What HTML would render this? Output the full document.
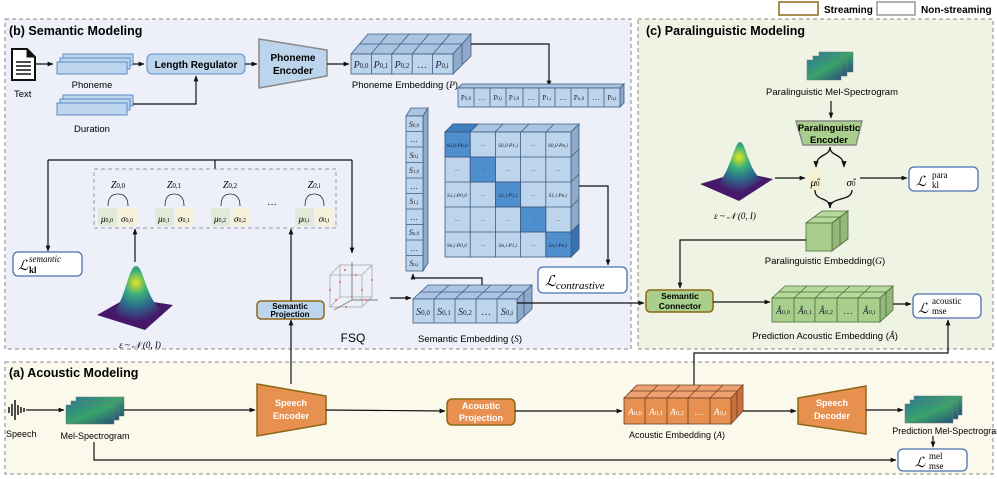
<!DOCTYPE html>
<html><head><meta charset="utf-8"><style>
body{margin:0;background:#fff}
svg{display:block}
.b{font-family:"Liberation Sans",sans-serif;font-weight:bold}
.s{font-family:"Liberation Sans",sans-serif}
.m{font-family:"Liberation Serif",serif;font-style:italic}
</style></head><body>
<svg width="997" height="479" viewBox="0 0 997 479" xmlns="http://www.w3.org/2000/svg">
<defs>
<marker id="a" viewBox="0 0 10 10" refX="9" refY="5" markerWidth="5" markerHeight="5" orient="auto"><path d="M0,1 L10,5 L0,9z" fill="#111"/></marker>
<linearGradient id="sp" x1="0" y1="0" x2="1" y2="1"><stop offset="0" stop-color="#2a7f8e"/><stop offset=".5" stop-color="#3aa36a"/><stop offset="1" stop-color="#24507a"/></linearGradient>
<radialGradient id="g" cx=".5" cy=".3" r=".7"><stop offset="0" stop-color="#e6e620"/><stop offset=".3" stop-color="#3cb07a"/><stop offset=".6" stop-color="#2d6f8e"/><stop offset="1" stop-color="#45186a"/></radialGradient>
</defs>
<!-- legend -->
<rect x="779" y="2" width="39" height="13" fill="#fff" stroke="#8b6914" stroke-width="1.5"/>
<text x="824" y="13" class="b" font-size="10">Streaming</text>
<rect x="877" y="2" width="38" height="13" fill="#fff" stroke="#999" stroke-width="1.5"/>
<text x="921" y="13" class="b" font-size="10">Non-streaming</text>
<!-- panels -->
<rect x="5" y="19" width="626" height="330" fill="#eef0f9" stroke="#888" stroke-dasharray="4,3"/>
<rect x="638" y="19" width="355" height="330" fill="#eef3e4" stroke="#888" stroke-dasharray="4,3"/>
<rect x="5" y="362" width="988" height="112" fill="#fbf9ec" stroke="#888" stroke-dasharray="4,3"/>
<text x="9" y="35" class="b" font-size="12.5">(b) Semantic Modeling</text>
<text x="646" y="35" class="b" font-size="12.5">(c) Paralinguistic Modeling</text>
<text x="9" y="377" class="b" font-size="12.5">(a) Acoustic Modeling</text>

<!-- Text icon -->
<path d="M12,49 h15 l8,8 v23 h-23z" fill="#fff" stroke="#111" stroke-width="2"/>
<path d="M27,49 v8 h8" fill="#111" stroke="#111"/>
<g stroke="#111" stroke-width="1.5"><line x1="16" y1="62" x2="31" y2="62"/><line x1="16" y1="66" x2="31" y2="66"/><line x1="16" y1="70" x2="31" y2="70"/><line x1="16" y1="74" x2="31" y2="74"/></g>
<text x="14" y="97" class="s" font-size="9.5">Text</text>
<line x1="36" y1="64" x2="53" y2="64" stroke="#111" stroke-width="1.2" marker-end="url(#a)"/>
<!-- phoneme stacks -->
<g fill="#bcd4ec" stroke="#5b8cc8">
<rect x="63" y="54" width="70" height="11"/><rect x="60" y="58" width="70" height="11"/><rect x="57" y="62" width="70" height="12"/>
<rect x="63" y="95" width="70" height="11"/><rect x="60" y="99" width="70" height="11"/><rect x="57" y="103" width="70" height="12"/>
</g>
<text x="92" y="88" class="s" font-size="9.5" text-anchor="middle">Phoneme</text>
<text x="92" y="132" class="s" font-size="9.5" text-anchor="middle">Duration</text>
<line x1="133" y1="64" x2="144" y2="64" stroke="#111" stroke-width="1.2" marker-end="url(#a)"/>
<polyline points="133,104 196,104 196,76" fill="none" stroke="#111" stroke-width="1.2" marker-end="url(#a)"/>
<rect x="147" y="54" width="98" height="20" rx="5" fill="#bcd4ec" stroke="#5b8cc8"/>
<text x="196" y="68" class="b" font-size="10" text-anchor="middle">Length Regulator</text>
<line x1="245" y1="64" x2="257" y2="64" stroke="#111" stroke-width="1.2" marker-end="url(#a)"/>
<polygon points="259,39 327,50 327,76 259,88" fill="#bcd4ec" stroke="#888" stroke-width="1.5"/>
<text x="293" y="61" class="b" font-size="10" text-anchor="middle">Phoneme</text>
<text x="293" y="74" class="b" font-size="10" text-anchor="middle">Encoder</text>
<line x1="327" y1="64" x2="349" y2="64" stroke="#111" stroke-width="1.2" marker-end="url(#a)"/>
<!-- phoneme embedding 3D -->
<g stroke="#3e5a80" stroke-width=".8">
<polygon points="351,54 368,34 471,34 453,54" fill="#aac4e2"/>
<line x1="359" y1="44" x2="462" y2="44"/>
<line x1="371" y1="54" x2="388" y2="34"/><line x1="392" y1="54" x2="409" y2="34"/><line x1="412" y1="54" x2="429" y2="34"/><line x1="433" y1="54" x2="450" y2="34"/>
<polygon points="453,54 471,34 471,56 453,74" fill="#8fa9c8"/>
<line x1="462" y1="44" x2="462" y2="64"/>
<rect x="351" y="54" width="102" height="20" fill="#bcd4ec"/>
<line x1="371.4" y1="54" x2="371.4" y2="74"/><line x1="391.8" y1="54" x2="391.8" y2="74"/><line x1="412.2" y1="54" x2="412.2" y2="74"/><line x1="432.6" y1="54" x2="432.6" y2="74"/>
</g>
<g class="m" font-size="10" text-anchor="middle" fill="#223"><text x="361" y="68">P<tspan font-size="7" font-style="normal">0,0</tspan></text><text x="381" y="68">P<tspan font-size="7" font-style="normal">0,1</tspan></text><text x="402" y="68">P<tspan font-size="7" font-style="normal">0,2</tspan></text><text x="422" y="68" font-style="normal">…</text><text x="442" y="68">P<tspan font-size="7" font-style="normal">0,i</tspan></text></g>
<text x="405" y="88" class="s" font-size="9.5" text-anchor="middle">Phoneme Embedding (<tspan class="m">P</tspan>)</text>
<polyline points="471,44 549,44 549,86" fill="none" stroke="#111" stroke-width="1.2" marker-end="url(#a)"/>
<!-- flat row -->
<g stroke="#3e5a80" stroke-width=".8">
<polygon points="458,88 462,84 624,84 620,88" fill="#aac4e2"/>
<polygon points="620,88 624,84 624,103 620,107" fill="#8fa9c8"/>
<rect x="458" y="88" width="162" height="19" fill="#bcd4ec"/>
<line x1="474" y1="88" x2="474" y2="107"/><line x1="490" y1="88" x2="490" y2="107"/><line x1="506" y1="88" x2="506" y2="107"/><line x1="523" y1="88" x2="523" y2="107"/><line x1="539" y1="88" x2="539" y2="107"/><line x1="555" y1="88" x2="555" y2="107"/><line x1="571" y1="88" x2="571" y2="107"/><line x1="588" y1="88" x2="588" y2="107"/><line x1="604" y1="88" x2="604" y2="107"/>
</g>
<g font-family="Liberation Serif,serif" font-size="7" text-anchor="middle" fill="#223"><text x="466" y="100">P<tspan font-size="5">0,0</tspan></text><text x="482" y="100">…</text><text x="498" y="100">P<tspan font-size="5">0,i</tspan></text><text x="514" y="100">P<tspan font-size="5">1,0</tspan></text><text x="531" y="100">…</text><text x="547" y="100">P<tspan font-size="5">1,i</tspan></text><text x="563" y="100">…</text><text x="579" y="100">P<tspan font-size="5">n,0</tspan></text><text x="596" y="100">…</text><text x="612" y="100">P<tspan font-size="5">n,i</tspan></text></g>
<!-- S column -->
<g stroke="#3e5a80" stroke-width=".8">
<polygon points="406,116 411,108 428,108 423,116" fill="#aac4e2"/>
<polygon points="423,116 428,108 428,263 423,271" fill="#8fa9c8"/>
<rect x="406" y="116" width="17" height="155" fill="#bcd4ec"/>
<line x1="406" y1="131.5" x2="423" y2="131.5"/><line x1="406" y1="147" x2="423" y2="147"/><line x1="406" y1="162.5" x2="423" y2="162.5"/><line x1="406" y1="178" x2="423" y2="178"/><line x1="406" y1="193.5" x2="423" y2="193.5"/><line x1="406" y1="209" x2="423" y2="209"/><line x1="406" y1="224.5" x2="423" y2="224.5"/><line x1="406" y1="240" x2="423" y2="240"/><line x1="406" y1="255.5" x2="423" y2="255.5"/>
</g>
<g class="m" font-size="8" text-anchor="middle" fill="#223"><text x="414" y="127">S<tspan font-size="5" font-style="normal">0,0</tspan></text><text x="414" y="142" font-style="normal">…</text><text x="414" y="158">S<tspan font-size="5" font-style="normal">0,i</tspan></text><text x="414" y="173">S<tspan font-size="5" font-style="normal">1,0</tspan></text><text x="414" y="189" font-style="normal">…</text><text x="414" y="204">S<tspan font-size="5" font-style="normal">1,i</tspan></text><text x="414" y="220" font-style="normal">…</text><text x="414" y="235">S<tspan font-size="5" font-style="normal">n,0</tspan></text><text x="414" y="251" font-style="normal">…</text><text x="414" y="266">S<tspan font-size="5" font-style="normal">n,i</tspan></text></g>
<!-- matrix -->
<g stroke="#3e5a80" stroke-width=".8">
<polygon points="445,132 453,124 579,124 571,132" fill="#aac4e2"/>
<polygon points="445,132 453,124 478,124 470,132" fill="#3f7fc0"/>
<polygon points="571,132 579,124 579,249 571,257" fill="#8fa9c8"/>
<polygon points="571,232 579,224 579,249 571,257" fill="#3a72b0"/>
<rect x="445" y="132" width="126" height="125" fill="#bcd4ec"/>
<rect x="445" y="132" width="25.2" height="25" fill="#4f8fcf"/>
<rect x="470.2" y="157" width="25.2" height="25" fill="#4f8fcf"/>
<rect x="495.4" y="182" width="25.2" height="25" fill="#4f8fcf"/>
<rect x="520.6" y="207" width="25.2" height="25" fill="#4f8fcf"/>
<rect x="545.8" y="232" width="25.2" height="25" fill="#4f8fcf"/>
<line x1="470.2" y1="132" x2="470.2" y2="257"/><line x1="495.4" y1="132" x2="495.4" y2="257"/><line x1="520.6" y1="132" x2="520.6" y2="257"/><line x1="545.8" y1="132" x2="545.8" y2="257"/>
<line x1="445" y1="157" x2="571" y2="157"/><line x1="445" y1="182" x2="571" y2="182"/><line x1="445" y1="207" x2="571" y2="207"/><line x1="445" y1="232" x2="571" y2="232"/>
<line x1="571" y1="157" x2="579" y2="149"/><line x1="571" y1="182" x2="579" y2="174"/><line x1="571" y1="207" x2="579" y2="199"/><line x1="571" y1="232" x2="579" y2="224"/>
<line x1="470" y1="132" x2="478" y2="124"/><line x1="495" y1="132" x2="503" y2="124"/><line x1="521" y1="132" x2="529" y2="124"/><line x1="546" y1="132" x2="554" y2="124"/>
</g>
<g font-family="Liberation Serif,serif" font-style="italic" font-size="5.5" text-anchor="middle" fill="#223">
<text x="457" y="147">S0,0·P0,0</text><text x="483" y="147">···</text><text x="508" y="147">S0,0·P1,i</text><text x="533" y="147">···</text><text x="558" y="147">S0,0·Pn,i</text>
<text x="457" y="172">···</text><text x="483" y="172">⋱</text><text x="508" y="172">···</text><text x="533" y="172">···</text><text x="558" y="172">···</text>
<text x="457" y="197">S1,i·P0,0</text><text x="483" y="197">···</text><text x="508" y="197">S1,i·P1,i</text><text x="533" y="197">···</text><text x="558" y="197">S1,i·Pn,i</text>
<text x="457" y="222">···</text><text x="483" y="222">···</text><text x="508" y="222">···</text><text x="533" y="222">⋱</text><text x="558" y="222">···</text>
<text x="457" y="247">Sn,i·P0,0</text><text x="483" y="247">···</text><text x="508" y="247">Sn,i·P1,i</text><text x="533" y="247">···</text><text x="558" y="247">Sn,i·Pn,i</text>
</g>
<polyline points="579,186 608,186 608,265" fill="none" stroke="#111" stroke-width="1.2" marker-end="url(#a)"/>
<rect x="538" y="267" width="89" height="26" rx="5" fill="#fff" stroke="#4a6fb0" stroke-width="1.3"/>
<text x="545" y="286" font-family="Liberation Serif,serif" font-style="italic" font-size="15">ℒ<tspan font-size="11" dy="3">contrastive</tspan></text>
<!-- semantic embedding -->
<g stroke="#3e5a80" stroke-width=".8">
<polygon points="413,299 428,285 532,285 517,299" fill="#aac4e2"/>
<line x1="420" y1="292" x2="524" y2="292"/>
<line x1="434" y1="299" x2="449" y2="285"/><line x1="455" y1="299" x2="470" y2="285"/><line x1="476" y1="299" x2="491" y2="285"/><line x1="497" y1="299" x2="512" y2="285"/>
<polygon points="517,299 532,285 532,309 517,323" fill="#8fa9c8"/>
<line x1="524" y1="292" x2="524" y2="316"/>
<rect x="413" y="299" width="104" height="24" fill="#bcd4ec"/>
<line x1="434" y1="299" x2="434" y2="323"/><line x1="455" y1="299" x2="455" y2="323"/><line x1="476" y1="299" x2="476" y2="323"/><line x1="497" y1="299" x2="497" y2="323"/>
</g>
<g class="m" font-size="10" text-anchor="middle" fill="#223"><text x="423" y="315">S<tspan font-size="7" font-style="normal">0,0</tspan></text><text x="444" y="315">S<tspan font-size="7" font-style="normal">0,1</tspan></text><text x="465" y="315">S<tspan font-size="7" font-style="normal">0,2</tspan></text><text x="486" y="315" font-style="normal">…</text><text x="507" y="315">S<tspan font-size="7" font-style="normal">0,i</tspan></text></g>
<text x="470" y="342" class="s" font-size="9.5" text-anchor="middle">Semantic Embedding (<tspan class="m">S</tspan>)</text>
<polyline points="482,285 482,278 413,278 413,274" fill="none" stroke="#111" stroke-width="1.2" marker-end="url(#a)"/>
<line x1="517" y1="303" x2="644" y2="303" stroke="#111" stroke-width="1.2" marker-end="url(#a)"/>
<!-- FSQ -->
<g stroke="#aaa" stroke-width=".8" fill="none">
<rect x="330" y="275" width="32" height="32"/><rect x="340" y="265" width="32" height="32"/>
<line x1="330" y1="275" x2="340" y2="265"/><line x1="362" y1="275" x2="372" y2="265"/><line x1="330" y1="307" x2="340" y2="297"/><line x1="362" y1="307" x2="372" y2="297"/>
</g>
<g stroke="#555" stroke-width=".7"><line x1="352" y1="300" x2="352" y2="262"/><line x1="352" y1="300" x2="378" y2="300"/><line x1="352" y1="300" x2="334" y2="310"/></g>
<g fill="#d88"><circle cx="330" cy="290" r="1.2"/><circle cx="340" cy="282" r="1.2"/><circle cx="362" cy="290" r="1.2"/><circle cx="346" cy="307" r="1.2"/><circle cx="372" cy="280" r="1.2"/><circle cx="356" cy="275" r="1.2"/><circle cx="366" cy="300" r="1.2"/><circle cx="336" cy="300" r="1.2"/><circle cx="345" cy="270" r="1.2"/></g>
<text x="353" y="342" class="s" font-size="12" text-anchor="middle">FSQ</text>
<line x1="390" y1="298" x2="411" y2="298" stroke="#111" stroke-width="1.2" marker-end="url(#a)"/>
<!-- semantic projection -->
<rect x="257" y="301" width="67" height="18" rx="4" fill="#bcd4ec" stroke="#8b6914" stroke-width="1.5"/>
<text x="290" y="309" class="b" font-size="8" text-anchor="middle">Semantic</text>
<text x="290" y="317" class="b" font-size="8" text-anchor="middle">Projection</text>
<line x1="291" y1="384" x2="291" y2="320" stroke="#111" stroke-width="1.2" marker-end="url(#a)"/>
<line x1="291" y1="301" x2="291" y2="229" stroke="#111" stroke-width="1.2" marker-end="url(#a)"/>
<!-- Z box -->
<polyline points="215,169 215,160" stroke="#111" stroke-width="1.2" fill="none"/>
<polyline points="48,160 352,160" stroke="#111" stroke-width="1.2" fill="none"/>
<line x1="48" y1="160" x2="48" y2="251" stroke="#111" stroke-width="1.2" marker-end="url(#a)"/>
<line x1="352" y1="160" x2="352" y2="253" stroke="#111" stroke-width="1.2" marker-end="url(#a)"/>
<rect x="94" y="169" width="242" height="59" fill="none" stroke="#999" stroke-dasharray="4,3"/>
<g fill="#e1ead9"><rect x="98" y="208" width="19" height="18"/><rect x="155" y="208" width="19" height="18"/><rect x="211" y="208" width="19" height="18"/><rect x="295" y="208" width="19" height="18"/></g>
<g fill="#f5f0da"><rect x="118" y="208" width="19" height="18"/><rect x="175" y="208" width="19" height="18"/><rect x="231" y="208" width="19" height="18"/><rect x="315" y="208" width="19" height="18"/></g>
<g fill="none" stroke="#222" stroke-width=".8">
<path d="M108,206 q0,-12 10,-12 q10,0 10,12"/><path d="M165,206 q0,-12 9,-12 q10,0 10,12"/><path d="M221,206 q0,-12 9,-12 q10,0 10,12"/><path d="M305,206 q0,-12 9,-12 q10,0 10,12"/>
</g>
<g class="m" font-size="10" text-anchor="middle"><text x="118" y="188">Z<tspan font-size="7" font-style="normal">0,0</tspan></text><text x="174" y="188">Z<tspan font-size="7" font-style="normal">0,1</tspan></text><text x="230" y="188">Z<tspan font-size="7" font-style="normal">0,2</tspan></text><text x="314" y="188">Z<tspan font-size="7">0,i</tspan></text><text x="272" y="208" font-style="normal">···</text></g>
<g class="m" font-size="9" text-anchor="middle"><text x="107" y="222">μ<tspan font-size="6" font-style="normal">0,0</tspan></text><text x="127" y="222">σ<tspan font-size="6" font-style="normal">0,0</tspan></text><text x="164" y="222">μ<tspan font-size="6" font-style="normal">0,1</tspan></text><text x="184" y="222">σ<tspan font-size="6" font-style="normal">0,1</tspan></text><text x="220" y="222">μ<tspan font-size="6" font-style="normal">0,2</tspan></text><text x="240" y="222">σ<tspan font-size="6" font-style="normal">0,2</tspan></text><text x="304" y="222">μ<tspan font-size="6" font-style="normal">0,i</tspan></text><text x="324" y="222">σ<tspan font-size="6" font-style="normal">0,i</tspan></text></g>
<rect x="13" y="252" width="69" height="24" rx="5" fill="#fff" stroke="#4a6fb0" stroke-width="1.3"/>
<text x="18" y="270" font-family="Liberation Serif,serif" font-style="italic" font-size="14">ℒ</text><text x="29" y="262" font-family="Liberation Serif,serif" font-style="italic" font-size="9">semantic</text><text x="29" y="273" font-family="Liberation Serif,serif" font-weight="bold" font-size="9">kl</text>
<!-- gaussian b -->
<line x1="135" y1="262" x2="135" y2="229" stroke="#111" stroke-width="1.2" marker-end="url(#a)"/>
<polygon points="97,315 127,298 173,305 145,330" fill="#45186a"/>
<path d="M110,316 C125,305 128,266 136,266 C144,266 146,300 162,310 L145,322z" fill="url(#g)"/>
<text x="140" y="348" class="m" font-size="9" text-anchor="middle">ε ~ 𝒩 (0, I)</text>

<!-- panel c -->
<g stroke="#777" stroke-width=".5"><rect x="819" y="52" width="34" height="20" fill="url(#sp)"/><rect x="813" y="56" width="34" height="20" fill="url(#sp)"/><rect x="807" y="60" width="34" height="20" fill="url(#sp)"/></g>
<text x="832" y="95" class="s" font-size="9.5" text-anchor="middle">Paralinguistic Mel-Spectrogram</text>
<line x1="831" y1="101" x2="831" y2="118" stroke="#111" stroke-width="1.2" marker-end="url(#a)"/>
<polygon points="796,121 862,121 856,145 803,145" fill="#a9cf8c" stroke="#888" stroke-width="1.5"/>
<text x="829" y="131" class="b" font-size="9.5" text-anchor="middle">Paralinguistic</text>
<text x="829" y="143" class="b" font-size="9.5" text-anchor="middle">Encoder</text>
<g fill="none" stroke="#111" stroke-width="1.3">
<path d="M830,147 c0,10 -14,6 -14,20" marker-end="url(#a)"/><path d="M830,147 c0,10 14,6 14,20" marker-end="url(#a)"/>
<path d="M815,190 c0,12 15,6 15,18" /><path d="M852,190 c0,12 -22,6 -22,18" marker-end="url(#a)"/>
</g>
<rect x="808" y="170" width="14" height="20" fill="#f5f0d0"/>
<text x="815" y="186" class="m" font-size="11" text-anchor="middle">μ̂<tspan font-size="7" font-style="normal">0</tspan></text>
<text x="851" y="186" class="m" font-size="11" text-anchor="middle">σ̂<tspan font-size="7" font-style="normal">0</tspan></text>
<polygon points="700,184 740,172 773,179 739,201" fill="#45186a"/>
<path d="M716,185 C730,175 734,142 740,142 C746,142 748,170 762,180 L740,193z" fill="url(#g)"/>
<text x="735" y="219" class="m" font-size="9" text-anchor="middle">ε ~ 𝒩 (0, I)</text>
<line x1="775" y1="178" x2="805" y2="178" stroke="#111" stroke-width="1.2" marker-end="url(#a)"/>
<line x1="860" y1="178" x2="907" y2="178" stroke="#111" stroke-width="1.2" marker-end="url(#a)"/>
<rect x="909" y="167" width="69" height="24" rx="5" fill="#fff" stroke="#4a6fb0" stroke-width="1.3"/>
<text x="916" y="186" font-family="Liberation Serif,serif" font-style="italic" font-size="14">ℒ</text><text x="932" y="178" font-family="Liberation Serif,serif" font-size="9">para</text><text x="932" y="188" font-family="Liberation Serif,serif" font-size="9">kl</text>
<!-- G block -->
<g stroke="#4a6a3a" stroke-width=".8">
<polygon points="806,223 822,211 848,211 832,223" fill="#b8d99c"/>
<line x1="814" y1="217" x2="840" y2="217"/>
<polygon points="832,223 848,211 848,239 832,251" fill="#94b87a"/>
<line x1="840" y1="217" x2="840" y2="245"/>
<rect x="806" y="223" width="26" height="28" fill="#a9cf8c"/>
</g>
<text x="825" y="264" class="s" font-size="9.5" text-anchor="middle">Paralinguistic Embedding(<tspan class="m">G</tspan>)</text>
<polyline points="806,240 680,240 680,288" fill="none" stroke="#111" stroke-width="1.2" marker-end="url(#a)"/>
<rect x="646" y="290" width="67" height="22" rx="4" fill="#a9cf8c" stroke="#8b6914" stroke-width="1.5"/>
<text x="680" y="299" class="b" font-size="8.5" text-anchor="middle">Semantic</text>
<text x="680" y="309" class="b" font-size="8.5" text-anchor="middle">Connector</text>
<line x1="713" y1="302" x2="770" y2="302" stroke="#111" stroke-width="1.2" marker-end="url(#a)"/>
<!-- pred acoustic -->
<g stroke="#4a6a3a" stroke-width=".8">
<polygon points="772,298 785,286 893,286 880,298" fill="#b8d99c"/>
<line x1="778" y1="292" x2="886" y2="292"/>
<line x1="794" y1="298" x2="807" y2="286"/><line x1="815" y1="298" x2="828" y2="286"/><line x1="837" y1="298" x2="850" y2="286"/><line x1="858" y1="298" x2="871" y2="286"/>
<polygon points="880,298 893,286 893,310 880,322" fill="#94b87a"/>
<line x1="886" y1="292" x2="886" y2="316"/>
<rect x="772" y="298" width="108" height="24" fill="#a9cf8c"/>
<line x1="794" y1="298" x2="794" y2="322"/><line x1="815" y1="298" x2="815" y2="322"/><line x1="837" y1="298" x2="837" y2="322"/><line x1="858" y1="298" x2="858" y2="322"/>
</g>
<g class="m" font-size="9.5" text-anchor="middle" fill="#223"><text x="783" y="314">Â<tspan font-size="6.5" font-style="normal">0,0</tspan></text><text x="805" y="314">Â<tspan font-size="6.5" font-style="normal">0,1</tspan></text><text x="826" y="314">Â<tspan font-size="6.5" font-style="normal">0,2</tspan></text><text x="848" y="314" font-style="normal">…</text><text x="869" y="314">Â<tspan font-size="6.5" font-style="normal">0,i</tspan></text></g>
<text x="825" y="339" class="s" font-size="9.5" text-anchor="middle">Prediction Acoustic Embedding (<tspan class="m">Â</tspan>)</text>
<line x1="893" y1="304" x2="911" y2="304" stroke="#111" stroke-width="1.2" marker-end="url(#a)"/>
<rect x="913" y="294" width="68" height="24" rx="5" fill="#fff" stroke="#4a6fb0" stroke-width="1.3"/>
<text x="918" y="313" font-family="Liberation Serif,serif" font-style="italic" font-size="14">ℒ</text><text x="932" y="304" font-family="Liberation Serif,serif" font-size="9">acoustic</text><text x="932" y="314" font-family="Liberation Serif,serif" font-size="9">mse</text>
<polyline points="694,385 694,353 948,353 948,320" fill="none" stroke="#111" stroke-width="1.2" marker-end="url(#a)"/>

<!-- panel a -->
<g stroke="#111" stroke-width="1.5"><line x1="9" y1="407" x2="9" y2="413"/><line x1="12" y1="404" x2="12" y2="416"/><line x1="15" y1="400" x2="15" y2="420"/><line x1="18" y1="405" x2="18" y2="415"/><line x1="21" y1="407" x2="21" y2="413"/><line x1="24" y1="408" x2="24" y2="412"/></g>
<text x="6" y="437" class="s" font-size="9">Speech</text>
<line x1="26" y1="410" x2="64" y2="410" stroke="#111" stroke-width="1.2" marker-end="url(#a)"/>
<g stroke="#777" stroke-width=".5"><rect x="76" y="397" width="48" height="19" fill="url(#sp)"/><rect x="71" y="401" width="48" height="19" fill="url(#sp)"/><rect x="66" y="405" width="48" height="19" fill="url(#sp)"/></g>
<text x="95" y="439" class="s" font-size="9" text-anchor="middle">Mel-Spectrogram</text>
<line x1="124" y1="410" x2="255" y2="410" stroke="#111" stroke-width="1.2" marker-end="url(#a)"/>
<polygon points="257,384 326,396 326,424 257,436" fill="#e8904f" stroke="#8b6914" stroke-width="1.5"/>
<text x="291" y="406" class="b" font-size="9" fill="#fff" text-anchor="middle">Speech</text>
<text x="291" y="419" class="b" font-size="9" fill="#fff" text-anchor="middle">Encoder</text>
<line x1="326" y1="410" x2="445" y2="411" stroke="#111" stroke-width="1.2" marker-end="url(#a)"/>
<rect x="447" y="399" width="68" height="26" rx="5" fill="#e8904f" stroke="#8b6914" stroke-width="1.5"/>
<text x="481" y="409" class="b" font-size="9" fill="#fff" text-anchor="middle">Acoustic</text>
<text x="481" y="421" class="b" font-size="9" fill="#fff" text-anchor="middle">Projection</text>
<line x1="515" y1="411" x2="622" y2="411" stroke="#111" stroke-width="1.2" marker-end="url(#a)"/>
<g stroke="#6a4020" stroke-width=".8">
<polygon points="624,398 637,385 743,385 731,398" fill="#eea070"/>
<line x1="630" y1="391" x2="737" y2="391"/>
<line x1="645" y1="398" x2="658" y2="385"/><line x1="667" y1="398" x2="680" y2="385"/><line x1="688" y1="398" x2="701" y2="385"/><line x1="710" y1="398" x2="723" y2="385"/>
<polygon points="731,398 743,385 743,411 731,424" fill="#c87040"/>
<line x1="737" y1="391" x2="737" y2="418"/>
<rect x="624" y="398" width="107" height="26" fill="#e8904f"/>
<line x1="645" y1="398" x2="645" y2="424"/><line x1="667" y1="398" x2="667" y2="424"/><line x1="688" y1="398" x2="688" y2="424"/><line x1="710" y1="398" x2="710" y2="424"/>
</g>
<g class="m" font-size="9.5" text-anchor="middle" fill="#fff"><text x="635" y="415">A<tspan font-size="6.5" font-style="normal">0,0</tspan></text><text x="656" y="415">A<tspan font-size="6.5" font-style="normal">0,1</tspan></text><text x="677" y="415">A<tspan font-size="6.5" font-style="normal">0,2</tspan></text><text x="699" y="415" font-style="normal">…</text><text x="720" y="415">A<tspan font-size="6.5" font-style="normal">0,i</tspan></text></g>
<text x="677" y="438" class="s" font-size="9" text-anchor="middle">Acoustic Embedding (<tspan class="m">A</tspan>)</text>
<line x1="743" y1="411" x2="796" y2="411" stroke="#111" stroke-width="1.2" marker-end="url(#a)"/>
<polygon points="798,398 866,386 866,434 798,424" fill="#e8904f" stroke="#8b6914" stroke-width="1.5"/>
<text x="832" y="406" class="b" font-size="9" fill="#fff" text-anchor="middle">Speech</text>
<text x="832" y="419" class="b" font-size="9" fill="#fff" text-anchor="middle">Decoder</text>
<line x1="866" y1="410" x2="903" y2="410" stroke="#111" stroke-width="1.2" marker-end="url(#a)"/>
<g stroke="#777" stroke-width=".5"><rect x="914" y="396" width="48" height="19" fill="url(#sp)"/><rect x="910" y="400" width="48" height="19" fill="url(#sp)"/><rect x="905" y="404" width="48" height="19" fill="url(#sp)"/></g>
<text x="948" y="434" class="s" font-size="9" text-anchor="middle">Prediction Mel-Spectrogram</text>
<line x1="933" y1="436" x2="933" y2="447" stroke="#111" stroke-width="1.2" marker-end="url(#a)"/>
<polyline points="94,442 94,460 896,460" fill="none" stroke="#111" stroke-width="1.2" marker-end="url(#a)"/>
<rect x="898" y="449" width="69" height="22" rx="5" fill="#fff" stroke="#4a6fb0" stroke-width="1.3"/>
<text x="915" y="467" font-family="Liberation Serif,serif" font-style="italic" font-size="14">ℒ</text><text x="929" y="459" font-family="Liberation Serif,serif" font-size="9">mel</text><text x="929" y="469" font-family="Liberation Serif,serif" font-size="9">mse</text>
</svg>
</body></html>
